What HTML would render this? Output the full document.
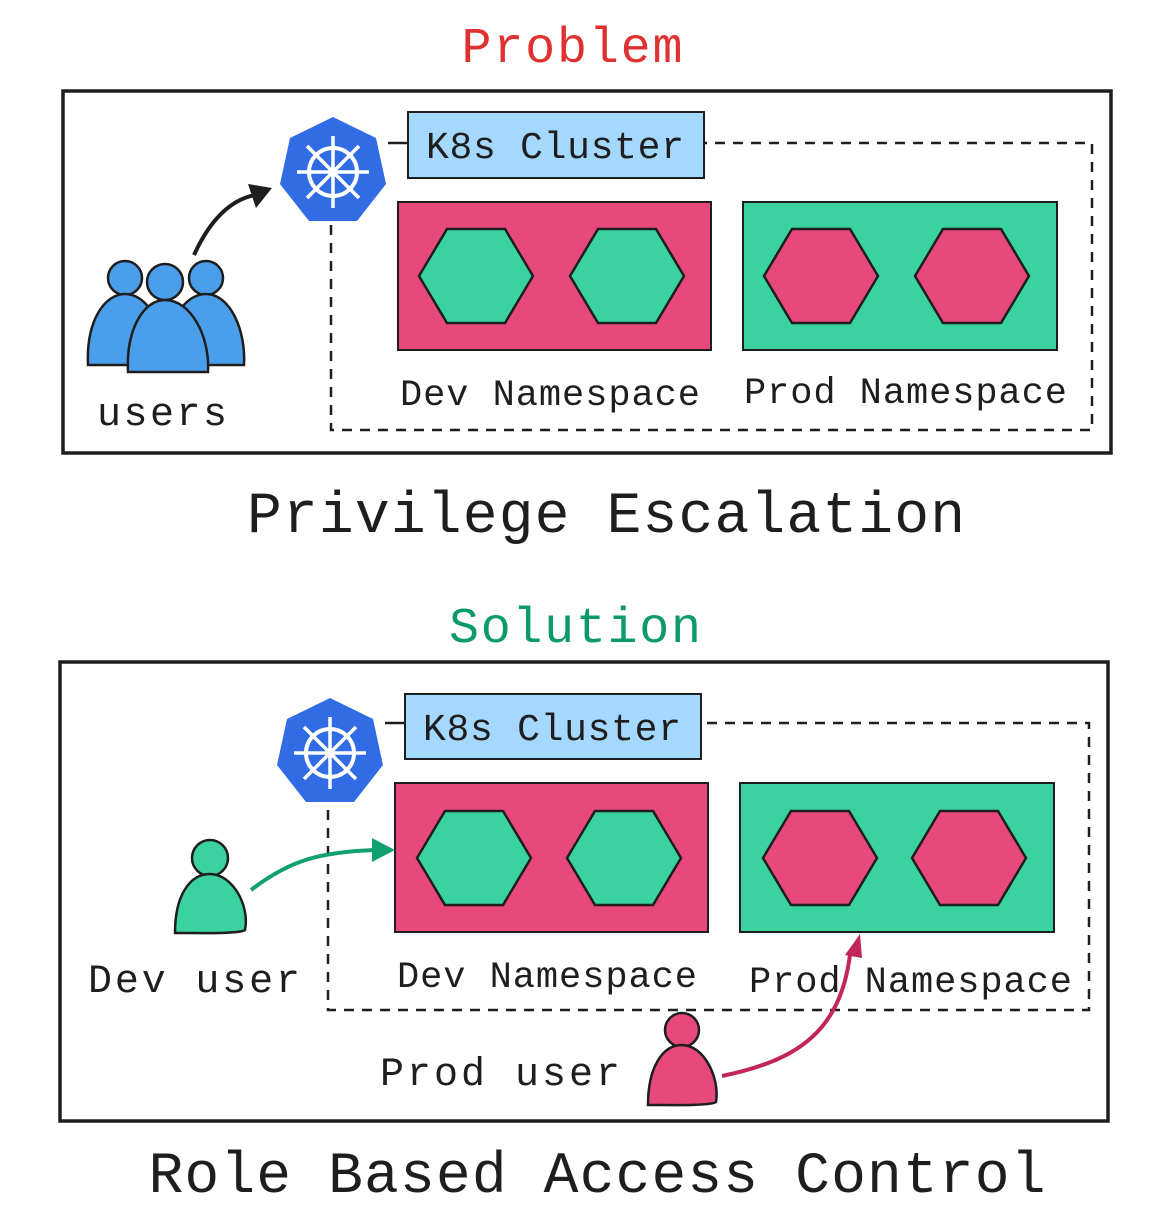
<!DOCTYPE html>
<html><head><style>body{margin:0;background:#fff}svg{display:block}text{font-family:"Liberation Mono",monospace}</style></head><body>
<svg width="1176" height="1220" viewBox="0 0 1176 1220" xmlns="http://www.w3.org/2000/svg">
<defs>
<g id="k8s">
<polygon points="0,-55 43,-34 53,12 24,49 -24,49 -53,12 -43,-34" fill="#326ce5"/>
<g stroke="#fff" fill="none" stroke-width="4">
<circle r="24"/><circle r="5" fill="#fff" stroke="none"/>
<g stroke-width="3.5">
<line x1="0" y1="-36" x2="0" y2="36"/><line x1="-36" y1="0" x2="36" y2="0"/>
<line x1="-26" y1="-26" x2="26" y2="26"/><line x1="-26" y1="26" x2="26" y2="-26"/>
</g></g>
</g>
<polygon id="hex" points="-57,0 -29,-47 29,-47 57,0 29,47 -29,47" stroke="#1e1e1e" stroke-width="2.5"/>
</defs>

<!-- TOP -->
<text x="572" y="62" font-size="50" fill="#e03131" text-anchor="middle" textLength="221">Problem</text>
<rect x="63" y="91" width="1048" height="362" fill="none" stroke="#1e1e1e" stroke-width="3.5"/>
<path d="M331,225 V430 H1092 V143 H704" fill="none" stroke="#1e1e1e" stroke-width="2.5" stroke-dasharray="10,8"/>
<line x1="388" y1="143" x2="408" y2="143" stroke="#1e1e1e" stroke-width="2.5"/>
<rect x="408" y="112" width="296" height="66" fill="#a5d8ff" stroke="#1e1e1e" stroke-width="2"/>
<text x="426" y="158" font-size="38" fill="#1e1e1e" textLength="258">K8s Cluster</text>
<use href="#k8s" x="333" y="172"/>
<rect x="398" y="202" width="313" height="148" fill="#e6497a" stroke="#1e1e1e" stroke-width="2"/>
<rect x="743" y="202" width="314" height="148" fill="#3ad2a0" stroke="#1e1e1e" stroke-width="2"/>
<use href="#hex" x="476" y="276" fill="#3ad2a0"/><use href="#hex" x="627" y="276" fill="#3ad2a0"/>
<use href="#hex" x="821" y="276" fill="#e6497a"/><use href="#hex" x="972" y="276" fill="#e6497a"/>
<text x="400" y="405" font-size="37" fill="#1e1e1e" textLength="300">Dev Namespace</text>
<text x="744" y="403" font-size="37" fill="#1e1e1e" textLength="323">Prod Namespace</text>
<text x="97" y="425" font-size="40" fill="#1e1e1e" textLength="130">users</text>
<!-- users icon -->
<g stroke="#1e1e1e" stroke-width="2.5" fill="#4a9eea">
<circle cx="125" cy="278" r="17"/><circle cx="206" cy="278" r="17"/>
<path d="M88,365 C86,320 105,294 125,294 C150,294 165,330 165,365 Z"/>
<path d="M168,365 C166,320 185,294 206,294 C230,294 246,330 244,365 Z"/>
<circle cx="165" cy="282" r="18"/>
<path d="M128,372 C126,330 143,300 165,300 C190,300 210,335 208,372 Z"/>
</g>
<path d="M194,255 C210,220 230,200 255,195" fill="none" stroke="#1e1e1e" stroke-width="4"/>
<polygon points="272,188 248,184 256,208" fill="#1e1e1e"/>
<text x="606" y="532" font-size="58" fill="#1e1e1e" text-anchor="middle" textLength="718">Privilege Escalation</text>

<!-- BOTTOM -->
<text x="575" y="642" font-size="50" fill="#0c9a6b" text-anchor="middle" textLength="252">Solution</text>
<rect x="60" y="662" width="1048" height="459" fill="none" stroke="#1e1e1e" stroke-width="3.5"/>
<path d="M328,810 V1010 H1089 V723 H701" fill="none" stroke="#1e1e1e" stroke-width="2.5" stroke-dasharray="10,8"/>
<line x1="385" y1="723" x2="405" y2="723" stroke="#1e1e1e" stroke-width="2.5"/>
<rect x="405" y="694" width="296" height="65" fill="#a5d8ff" stroke="#1e1e1e" stroke-width="2"/>
<text x="423" y="740" font-size="38" fill="#1e1e1e" textLength="258">K8s Cluster</text>
<use href="#k8s" x="330" y="753"/>
<rect x="395" y="783" width="313" height="149" fill="#e6497a" stroke="#1e1e1e" stroke-width="2"/>
<rect x="740" y="783" width="314" height="149" fill="#3ad2a0" stroke="#1e1e1e" stroke-width="2"/>
<use href="#hex" x="474" y="858" fill="#3ad2a0"/><use href="#hex" x="624" y="858" fill="#3ad2a0"/>
<use href="#hex" x="820" y="858" fill="#e6497a"/><use href="#hex" x="969" y="858" fill="#e6497a"/>
<text x="397" y="987" font-size="37" fill="#1e1e1e" textLength="300">Dev Namespace</text>
<text x="749" y="992" font-size="37" fill="#1e1e1e" textLength="323">Prod Namespace</text>
<text x="88" y="992" font-size="40" fill="#1e1e1e" textLength="212">Dev user</text>
<text x="380" y="1085" font-size="40" fill="#1e1e1e" textLength="240">Prod user</text>
<g stroke="#1e1e1e" stroke-width="2.5">
<circle cx="210" cy="858" r="18" fill="#3ad2a0"/>
<path d="M175,933 C175,895 190,874 210,874 C232,874 250,905 245,930 C240,934 200,933 175,933 Z" fill="#3ad2a0"/>
<circle cx="682" cy="1030" r="17" fill="#e6497a"/>
<path d="M648,1105 C648,1068 662,1045 682,1045 C704,1045 720,1078 716,1102 C710,1106 670,1105 648,1105 Z" fill="#e6497a"/>
</g>
<path d="M251,890 C290,860 320,852 375,850" fill="none" stroke="#12a06e" stroke-width="4"/>
<polygon points="395,850 372,838 372,862" fill="#12a06e"/>
<path d="M722,1076 C800,1060 840,1030 850,955" fill="none" stroke="#c2255c" stroke-width="4"/>
<polygon points="860,934 845,955 862,958" fill="#c2255c"/>
<text x="597" y="1192" font-size="58" fill="#1e1e1e" text-anchor="middle" textLength="897">Role Based Access Control</text>
</svg>
</body></html>
